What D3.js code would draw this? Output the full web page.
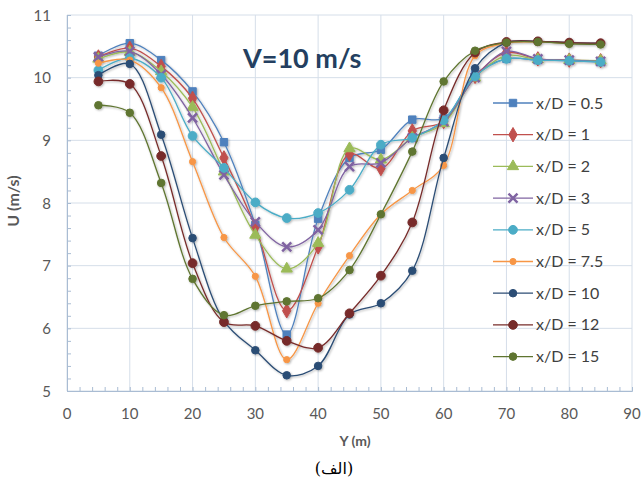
<!DOCTYPE html>
<html>
<head>
<meta charset="utf-8">
<script src="https://cdn.jsdelivr.net/npm/d3@7"></script>
<style>
  body { margin: 0; background: #fff; }
  svg text { font-family: Lato, "Open Sans", sans-serif; }
</style>
</head>
<body>
<svg id="chart" width="642" height="485"></svg>
<script>
// distance across the channel, m
const yPos = [5, 10, 15, 20, 25, 30, 35, 40, 45, 50, 55, 60, 65, 70, 75, 80, 85];

const seriesNames = ["x/D = 0.5", "x/D = 1", "x/D = 2", "x/D = 3", "x/D = 5", "x/D = 7.5", "x/D = 10", "x/D = 12", "x/D = 15"];

const u05 = [10.35, 10.55, 10.28, 9.78, 8.97, 7.65, 5.9, 7.75, 8.72, 8.85, 9.33, 9.35, 10.05, 10.3, 10.28, 10.27, 10.25];
const u1  = [10.33, 10.47, 10.18, 9.67, 8.72, 7.62, 6.28, 7.3, 8.78, 8.55, 9.15, 9.3, 10.02, 10.4, 10.3, 10.28, 10.27];
const u2  = [10.3, 10.41, 10.1, 9.53, 8.5, 7.49, 6.95, 7.36, 8.87, 8.69, 9.04, 9.27, 10.0, 10.35, 10.29, 10.28, 10.27];
const u3  = [10.33, 10.42, 10.05, 9.36, 8.45, 7.7, 7.3, 7.57, 8.58, 8.64, 9.04, 9.3, 10.0, 10.42, 10.3, 10.28, 10.26];
const u5  = [10.12, 10.31, 10.0, 9.07, 8.56, 8.01, 7.76, 7.84, 8.21, 8.93, 9.04, 9.32, 10.02, 10.3, 10.28, 10.27, 10.25];
const u75 = [10.23, 10.28, 9.84, 8.66, 7.45, 6.83, 5.5, 6.4, 7.16, 7.82, 8.2, 8.6, 10.35, 10.55, 10.57, 10.55, 10.54];
const u10 = [10.04, 10.22, 9.09, 7.44, 6.12, 5.65, 5.25, 5.4, 6.22, 6.4, 6.92, 8.72, 10.15, 10.56, 10.58, 10.56, 10.55];
const u12 = [9.94, 9.9, 8.75, 7.04, 6.1, 6.04, 5.8, 5.69, 6.24, 6.84, 7.69, 9.48, 10.4, 10.57, 10.58, 10.56, 10.55];
const u15 = [9.56, 9.44, 8.32, 6.79, 6.21, 6.36, 6.43, 6.48, 6.93, 7.82, 8.82, 9.94, 10.43, 10.56, 10.57, 10.54, 10.53];

const xTicks = [0, 10, 20, 30, 40, 50, 60, 70, 80, 90];
const yTicks = [5, 6, 7, 8, 9, 10, 11];

const colors = ["#4F81BD", "#C0504D", "#9BBB59", "#8064A2", "#4BACC6", "#F79646", "#2C4D75", "#772C2A", "#5F7530"];
const allU = [u05, u1, u2, u3, u5, u75, u10, u12, u15];

const series = seriesNames.map((name, i) => ({
    name: name,
    color: colors[i],
    values: yPos.map((y, j) => ({x: y, u: allU[i][j]}))
}));

const svg = d3.select("#chart");
const margin = {left: 67, right: 10, top: 15, bottom: 94};
const plotW = 632 - margin.left;
const plotH = 391 - margin.top;

const x = d3.scaleLinear().domain([0, 90]).range([margin.left, margin.left + plotW]);
const y = d3.scaleLinear().domain([5, 11]).range([margin.top + plotH, margin.top]);

const defs = svg.append("defs");
defs.append("filter").attr("id", "shadow")
    .attr("x", "-20%").attr("y", "-20%").attr("width", "140%").attr("height", "140%")
  .append("feDropShadow")
    .attr("dx", 1).attr("dy", 1).attr("stdDeviation", 1)
    .attr("flood-color", "#000").attr("flood-opacity", 0.3);

// gridlines
const grid = svg.append("g");
grid.selectAll(".vg").data(xTicks).enter().append("line")
    .attr("x1", d => x(d)).attr("x2", d => x(d))
    .attr("y1", y(5)).attr("y2", y(11))
    .attr("stroke", "#D5DEE9").attr("stroke-width", 1);
grid.selectAll(".hg").data(yTicks).enter().append("line")
    .attr("x1", x(0)).attr("x2", x(90))
    .attr("y1", d => y(d)).attr("y2", d => y(d))
    .attr("stroke", "#D5DEE9").attr("stroke-width", 1);

// axes with inward minor ticks
const axisColor = "#A9BCD3";
const xAxis = svg.append("g").attr("transform", `translate(0,${y(5)})`)
    .call(d3.axisTop(x).ticks(45).tickSize(4).tickFormat(""));
const yAxis = svg.append("g").attr("transform", `translate(${x(0)},0)`)
    .call(d3.axisRight(y).ticks(30).tickSize(4).tickFormat(""));
[xAxis, yAxis].forEach(a => {
    a.select(".domain").attr("stroke", axisColor);
    a.selectAll(".tick line").attr("stroke", axisColor);
});

// tick labels
svg.append("g").selectAll("text").data(xTicks).enter().append("text")
    .attr("x", d => x(d)).attr("y", 419)
    .attr("text-anchor", "middle")
    .attr("font-size", 15).attr("fill", "#595959")
    .text(d => d);
svg.append("g").selectAll("text").data(yTicks).enter().append("text")
    .attr("x", 51).attr("y", d => y(d) + 5.5)
    .attr("text-anchor", "end")
    .attr("font-size", 15).attr("fill", "#595959")
    .text(d => d);

// axis titles
svg.append("text")
    .attr("x", 355).attr("y", 446)
    .attr("text-anchor", "middle")
    .attr("font-size", 14).attr("font-weight", "bold").attr("fill", "#595959")
    .text("Y (m)");
svg.append("text")
    .attr("transform", "translate(19,201) rotate(-90)")
    .attr("text-anchor", "middle")
    .attr("font-size", 16).attr("font-weight", "bold").attr("fill", "#595959")
    .text("U (m/s)");
svg.append("text")
    .attr("x", 334).attr("y", 474)
    .attr("text-anchor", "middle")
    .attr("font-size", 16).attr("fill", "#000")
    .style("font-family", "'DejaVu Serif', 'DejaVu Sans', serif")
    .text("(الف)");

// chart label
svg.append("text")
    .attr("x", 243).attr("y", 68)
    .attr("font-size", 27).attr("font-weight", "bold").attr("fill", "#243F60")
    .text("V=10 m/s");

// markers per series
const symbolTypes = [d3.symbolSquare, d3.symbolDiamond, d3.symbolTriangle, d3.symbolX, d3.symbolCircle,
                     d3.symbolCircle, d3.symbolCircle, d3.symbolCircle, d3.symbolCircle];
const symbolSizes = [55, 60, 55, 55, 60, 30, 45, 60, 45];

const line = d3.line()
    .x(d => x(d.x))
    .y(d => y(d.u))
    .curve(d3.curveCatmullRom.alpha(0.5));

const plot = svg.append("g").attr("filter", "url(#shadow)");
const sg = plot.selectAll(".series").data(series).enter().append("g");
sg.append("path")
    .attr("d", d => line(d.values))
    .attr("fill", "none")
    .attr("stroke", d => d.color)
    .attr("stroke-width", 1.3);
sg.each(function(d, i) {
    const sym = d3.symbol().type(symbolTypes[i]).size(symbolSizes[i]);
    d3.select(this).selectAll(".m").data(d.values).enter().append("path")
        .attr("transform", p => `translate(${x(p.x)},${y(p.u)})`)
        .attr("d", sym)
        .attr("fill", d.color)
        .attr("stroke", d.color)
        .attr("stroke-width", symbolTypes[i] === d3.symbolX ? 2.5 : 1);
});

// legend
const legend = svg.append("g");
const lg = legend.selectAll("g").data(series).enter().append("g")
    .attr("transform", (d, i) => `translate(493,${103 + i * 31.7})`);
lg.append("line")
    .attr("x1", 0).attr("x2", 40)
    .attr("stroke", d => d.color).attr("stroke-width", 1.3);
lg.each(function(d, i) {
    d3.select(this).append("path")
        .attr("transform", "translate(20,0)")
        .attr("d", d3.symbol().type(symbolTypes[i]).size(symbolSizes[i]))
        .attr("fill", d.color)
        .attr("stroke", d.color)
        .attr("stroke-width", symbolTypes[i] === d3.symbolX ? 2.5 : 1);
});
lg.append("text")
    .attr("x", 43).attr("y", 5.5)
    .attr("font-size", 16).attr("fill", "#404040")
    .text(d => d.name);
</script>
</body>
</html>
